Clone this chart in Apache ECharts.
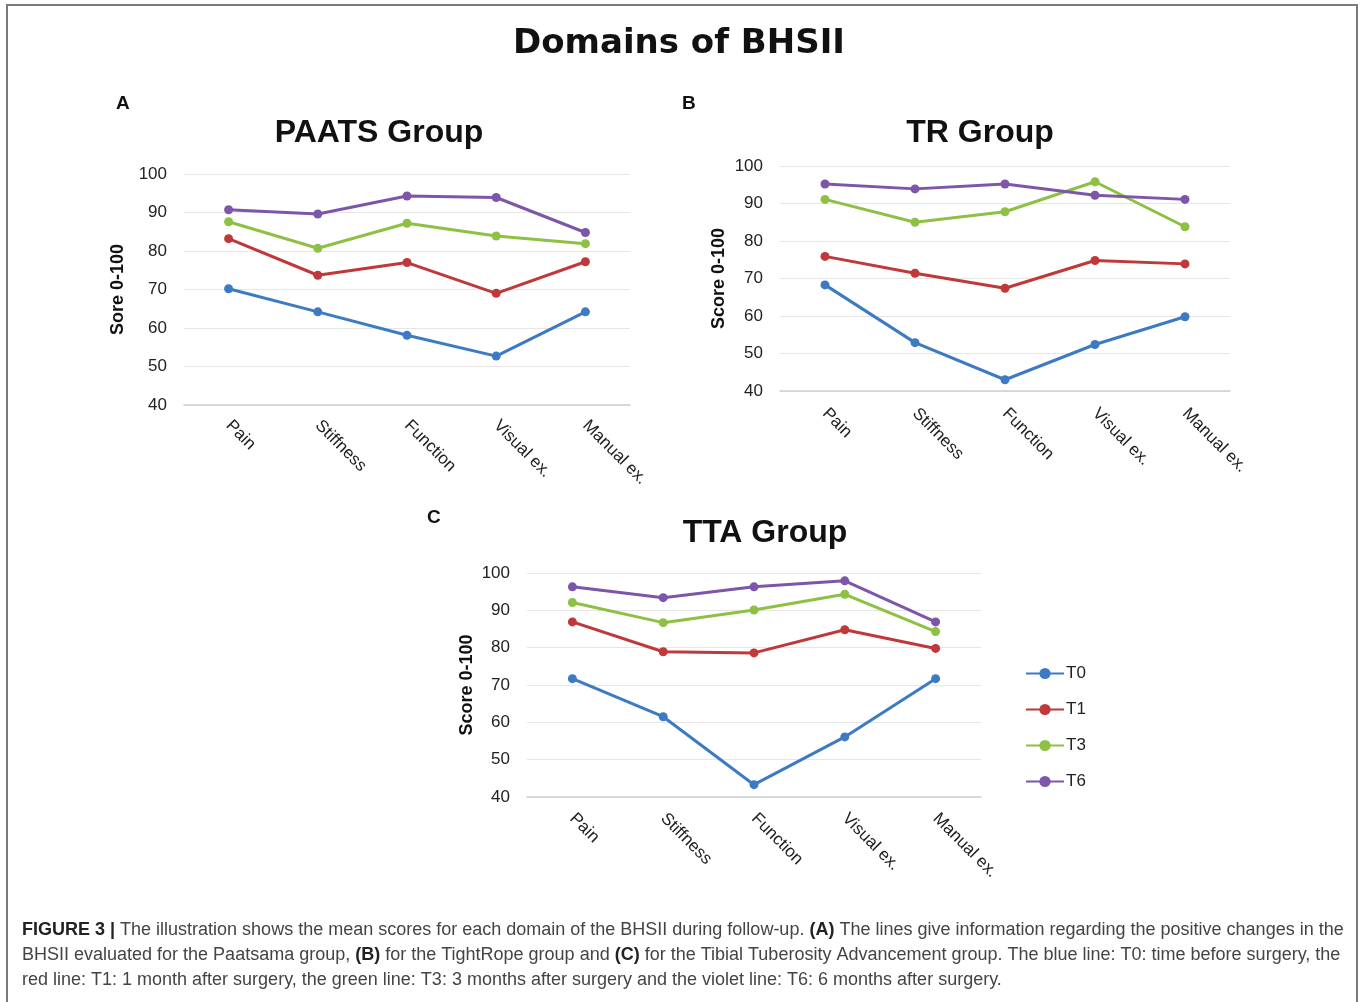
<!DOCTYPE html>
<html>
<head>
<meta charset="utf-8">
<script src="https://cdn.jsdelivr.net/npm/echarts@6/dist/echarts.min.js"></script>
<style>
html,body{margin:0;padding:0;background:#fff;}
#chart{width:1365px;height:1002px;}
</style>
</head>
<body>
<div id="chart"></div>
<script>
// ---- data ----
var categories = ['Pain', 'Stiffness', 'Function', 'Visual ex.', 'Manual ex.'];
var seriesNames = ['T0', 'T1', 'T3', 'T6'];
var yTicks = [40, 50, 60, 70, 80, 90, 100];

// Panel A: PAATS Group
var paatsT0 = [70.2, 64.2, 58.1, 52.7, 64.2];
var paatsT1 = [83.2, 73.7, 77.0, 69.0, 77.2];
var paatsT3 = [87.6, 80.7, 87.2, 83.9, 81.9];
var paatsT6 = [90.7, 89.6, 94.3, 93.9, 84.8];

// Panel B: TR Group
var trT0 = [68.3, 52.9, 43.0, 52.4, 59.8];
var trT1 = [75.9, 71.4, 67.4, 74.8, 73.9];
var trT3 = [91.1, 85.0, 87.8, 95.8, 83.8];
var trT6 = [95.2, 93.9, 95.2, 92.2, 91.1];

// Panel C: TTA Group
var ttaT0 = [71.7, 61.5, 43.3, 56.1, 71.7];
var ttaT1 = [86.9, 78.9, 78.6, 84.8, 79.8];
var ttaT3 = [92.1, 86.7, 90.1, 94.3, 84.3];
var ttaT6 = [96.3, 93.4, 96.3, 97.9, 86.9];

var panelTitles = ['PAATS Group', 'TR Group', 'TTA Group'];
var panelLetters = ['A', 'B', 'C'];
var yNames = ['Sore 0-100', 'Score 0-100', 'Score 0-100'];
var mainTitle = 'Domains of BHSII';

var captionLines = [
  [['b', 'FIGURE 3 | '], ['n', 'The illustration shows the mean scores for each domain of the BHSII during follow-up. '], ['b', '(A)'], ['n', ' The lines give information regarding the positive changes in the']],
  [['n', 'BHSII evaluated for the Paatsama group, '], ['b', '(B)'], ['n', ' for the TightRope group and '], ['b', '(C)'], ['n', ' for the Tibial Tuberosity Advancement group. The blue line: T0: time before surgery, the']],
  [['n', 'red line: T1: 1 month after surgery, the green line: T3: 3 months after surgery and the violet line: T6: 6 months after surgery.']]
];

// ---- layout / style ----
var colors = ['#3D7AC4', '#C0383A', '#8DC043', '#7D55A9'];
var panelData = [
  [paatsT0, paatsT1, paatsT3, paatsT6],
  [trT0, trT1, trT3, trT6],
  [ttaT0, ttaT1, ttaT3, ttaT6]
];
var grids = [
  {left: 184, top: 174, width: 446, height: 231},
  {left: 780, top: 166, width: 450, height: 225},
  {left: 527, top: 573, width: 454, height: 224}
];
var nameGaps = [57, 52, 51];
var labelMargins = [18, 20, 19];
var fontFam = 'Liberation Sans, Arial, sans-serif';

var xAxes = [], yAxes = [], series = [];
for (var p = 0; p < 3; p++) {
  xAxes.push({
    type: 'category', gridIndex: p, data: categories, boundaryGap: true,
    axisLine: {show: true, lineStyle: {color: '#d0d0d0', width: 1.5}},
    axisTick: {show: false},
    axisLabel: {rotate: -45, margin: labelMargins[p], fontSize: 17, color: '#222', fontFamily: fontFam, interval: 0}
  });
  yAxes.push({
    type: 'value', gridIndex: p, min: yTicks[0], max: yTicks[yTicks.length - 1], interval: 10,
    name: yNames[p], nameLocation: 'middle', nameRotate: 90, nameGap: nameGaps[p],
    nameTextStyle: {fontSize: 18, fontWeight: 'bold', color: '#111', fontFamily: fontFam},
    axisLine: {show: false}, axisTick: {show: false},
    axisLabel: {fontSize: 17, color: '#222', margin: 17, fontFamily: fontFam},
    splitLine: {lineStyle: {color: '#e6e6e6', width: 1}}
  });
  for (var s = 0; s < 4; s++) {
    series.push({
      type: 'line', name: seriesNames[s], xAxisIndex: p, yAxisIndex: p,
      data: panelData[p][s], symbol: 'circle', symbolSize: 9,
      lineStyle: {width: 3, color: colors[s]},
      itemStyle: {color: colors[s]},
      animation: false, z: 2 + s
    });
  }
}

var titles = [
  {text: mainTitle, left: 674, top: 22, textAlign: 'center',
   textStyle: {fontSize: 34, fontWeight: 'bold', color: '#111', fontFamily: 'DejaVu Sans, sans-serif'}},
  {text: panelTitles[0], left: 374, top: 112, textAlign: 'center',
   textStyle: {fontSize: 32, fontWeight: 'bold', color: '#111', fontFamily: fontFam}},
  {text: panelTitles[1], left: 975, top: 112, textAlign: 'center',
   textStyle: {fontSize: 32, fontWeight: 'bold', color: '#111', fontFamily: fontFam}},
  {text: panelTitles[2], left: 760, top: 512, textAlign: 'center',
   textStyle: {fontSize: 32, fontWeight: 'bold', color: '#111', fontFamily: fontFam}}
];

var graphics = [
  {type: 'rect', shape: {x: 7, y: 5, width: 1350, height: 1010}, style: {fill: 'none', stroke: '#7a7a7a', lineWidth: 2}, silent: true},
  {type: 'text', left: 116, top: 94, style: {text: panelLetters[0], font: 'bold 19px ' + fontFam, fill: '#111'}},
  {type: 'text', left: 682, top: 94, style: {text: panelLetters[1], font: 'bold 19px ' + fontFam, fill: '#111'}},
  {type: 'text', left: 427, top: 508, style: {text: panelLetters[2], font: 'bold 19px ' + fontFam, fill: '#111'}}
];
var capTops = [921, 946, 971];
for (var i = 0; i < captionLines.length; i++) {
  var txt = captionLines[i].map(function (seg) {
    return '{' + seg[0] + '|' + seg[1] + '}';
  }).join('');
  graphics.push({
    type: 'text', left: 22, top: capTops[i],
    style: {
      text: txt,
      rich: {
        b: {fontSize: 18, fontWeight: 'bold', fill: '#222', fontFamily: fontFam},
        n: {fontSize: 18, fill: '#444', fontFamily: fontFam}
      }
    }
  });
}

var chart = echarts.init(document.getElementById('chart'), null, {renderer: 'canvas'});
chart.setOption({
  backgroundColor: '#ffffff',
  animation: false,
  color: colors,
  title: titles,
  legend: {
    data: seriesNames, orient: 'vertical', left: 1020, top: 660,
    itemWidth: 38, itemHeight: 14, itemGap: 19,
    textStyle: {fontSize: 17, color: '#222', fontFamily: fontFam, padding: [0, 0, 0, -3]}
  },
  grid: grids,
  xAxis: xAxes,
  yAxis: yAxes,
  series: series,
  graphic: graphics
});
</script>
</body>
</html>
